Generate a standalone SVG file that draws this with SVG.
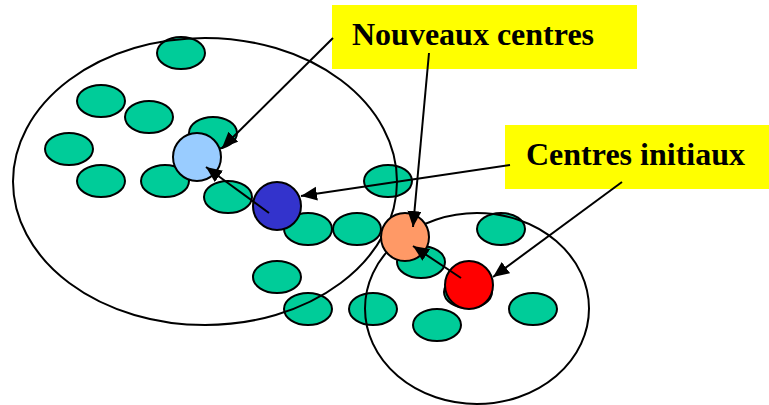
<svg xmlns="http://www.w3.org/2000/svg" width="769" height="405" viewBox="0 0 769 405">
<style>
.pt{fill:#00CC99;stroke:#000;stroke-width:2}
.cl{fill:none;stroke:#000;stroke-width:2}
.ctr{stroke:#000;stroke-width:2}
.lbl{fill:#FFFF00}
.tx{font-family:"Liberation Serif","Times New Roman",serif;font-weight:bold;font-size:32px;fill:#000}
.ar{stroke:#000;stroke-width:2;fill:none;marker-end:url(#ah)}
</style>
<defs>
<marker id="ah" markerUnits="userSpaceOnUse" markerWidth="18" markerHeight="16" refX="16" refY="7" orient="auto">
<path d="M0,0 L16,7 L0,14 z" fill="#000"/>
</marker>
</defs>
<g id="points">
<ellipse class="pt" cx="181" cy="53" rx="24" ry="16"/>
<ellipse class="pt" cx="101" cy="101" rx="24" ry="16"/>
<ellipse class="pt" cx="149" cy="117" rx="24" ry="16"/>
<ellipse class="pt" cx="213" cy="133" rx="24" ry="16"/>
<ellipse class="pt" cx="69" cy="149" rx="24" ry="16"/>
<ellipse class="pt" cx="101" cy="181" rx="24" ry="16"/>
<ellipse class="pt" cx="165" cy="181" rx="24" ry="16"/>
<ellipse class="pt" cx="228" cy="197" rx="24" ry="16"/>
<ellipse class="pt" cx="388" cy="181" rx="24" ry="16"/>
<ellipse class="pt" cx="308" cy="229" rx="24" ry="16"/>
<ellipse class="pt" cx="357" cy="229" rx="24" ry="16"/>
<ellipse class="pt" cx="277" cy="277" rx="24" ry="16"/>
<ellipse class="pt" cx="308" cy="309" rx="24" ry="16"/>
<ellipse class="pt" cx="373" cy="309" rx="24" ry="16"/>
<ellipse class="pt" cx="501" cy="229" rx="24" ry="16"/>
<ellipse class="pt" cx="421" cy="262" rx="24" ry="16"/>
<ellipse class="pt" cx="437" cy="325" rx="24" ry="16"/>
<ellipse class="pt" cx="533" cy="309" rx="24" ry="16"/>
<ellipse class="pt" cx="468" cy="292" rx="24" ry="16"/>
</g>
<g id="cluster1"><ellipse class="cl" cx="205" cy="181.5" rx="192" ry="143.5"/></g>
<g id="cluster2"><ellipse class="cl" cx="477" cy="308.5" rx="112" ry="95.5"/></g>
<g id="centre-new1"><circle class="ctr" cx="197" cy="157" r="24" fill="#99CCFF"/></g>
<g id="centre-init1"><circle class="ctr" cx="277" cy="206" r="24" fill="#3333CC"/></g>
<g id="centre-new2"><circle class="ctr" cx="405" cy="237" r="24" fill="#FF9966"/></g>
<g id="centre-init2"><circle class="ctr" cx="469" cy="285" r="24" fill="#FF0000"/></g>
<g id="label-nouveaux">
<rect class="lbl" x="332" y="5" width="305" height="64"/>
<text class="tx" x="352" y="45">Nouveaux centres</text>
</g>
<g id="label-initiaux">
<rect class="lbl" x="505" y="125" width="264" height="64"/>
<text class="tx" x="526" y="165">Centres initiaux</text>
</g>
<g id="connectors">
<line class="ar" x1="333" y1="38" x2="222" y2="148"/>
<line class="ar" x1="429" y1="53" x2="413" y2="227"/>
<line class="ar" x1="510" y1="165" x2="301" y2="196"/>
<line class="ar" x1="622" y1="182" x2="493" y2="277"/>
<line class="ar" x1="269" y1="213" x2="206" y2="167"/>
<line class="ar" x1="461" y1="278" x2="413" y2="246"/>
</g>
</svg>
